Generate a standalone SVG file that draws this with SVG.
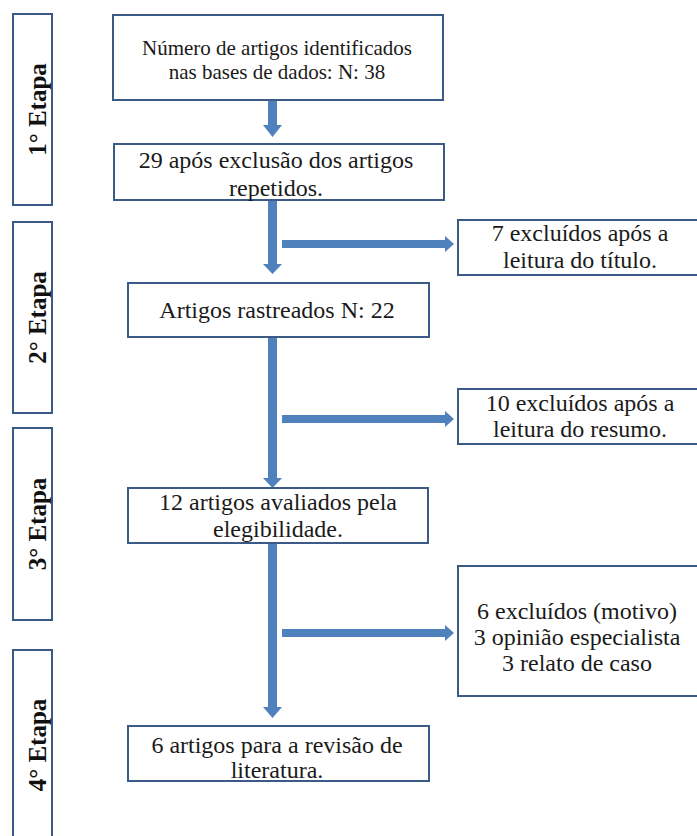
<svg xmlns="http://www.w3.org/2000/svg" width="697" height="836" viewBox="0 0 697 836">
<style>
.box{fill:#ffffff;stroke:#3B5B86;stroke-width:2}
.t{font-family:"Liberation Serif","Times New Roman",serif;font-size:24px;fill:#1a1a1a;text-anchor:middle}
.ts{font-size:21px}
.stage{font-family:"Liberation Serif","Times New Roman",serif;font-size:25px;font-weight:bold;fill:#111;text-anchor:middle}
.arr{fill:#4F81BD}
</style>
<rect width="697" height="836" fill="#ffffff"/>
<g id="stages">
<g id="stage1"><rect class="box" x="13" y="14" width="39" height="191"/><text class="stage" transform="translate(46,109.5) rotate(-90)">1° Etapa</text></g>
<g id="stage2"><rect class="box" x="13" y="222" width="39" height="191"/><text class="stage" transform="translate(46,317.5) rotate(-90)">2° Etapa</text></g>
<g id="stage3"><rect class="box" x="13" y="428" width="39" height="192"/><text class="stage" transform="translate(46,524) rotate(-90)">3° Etapa</text></g>
<g id="stage4"><rect class="box" x="13" y="650" width="39" height="200"/><text class="stage" transform="translate(46,745) rotate(-90)">4° Etapa</text></g>
</g>
<g id="connectors">
<polygon class="arr" points="268,99 277,99 277,125 282,125 272.5,137 263,125 268,125"/>
<polygon class="arr" points="268,200 277,200 277,264 282,264 272.5,274 263,264 268,264"/>
<polygon class="arr" points="268,337 277,337 277,478 282,478 272.5,488 263,478 268,478"/>
<polygon class="arr" points="268,543 277,543 277,707 282,707 272.5,718 263,707 268,707"/>
<polygon class="arr" points="282,240 445,240 445,236 454,244 445,252 445,248 282,248"/>
<polygon class="arr" points="282,415 445,415 445,411 454,419 445,427 445,423 282,423"/>
<polygon class="arr" points="282,629 445,629 445,625 454,633 445,641 445,637 282,637"/>
</g>
<g id="n1"><rect class="box" x="113" y="15" width="330" height="85"/><text class="t ts" x="277" y="55">Número de artigos identificados</text><text class="t ts" x="277" y="79">nas bases de dados: N: 38</text></g>
<g id="n2"><rect class="box" x="114" y="144" width="330" height="56"/><text class="t" x="276" y="168">29 após exclusão dos artigos</text><text class="t" x="276" y="196">repetidos.</text></g>
<g id="n3"><rect class="box" x="458" y="220" width="250" height="55"/><text class="t" x="580" y="241">7 excluídos após a</text><text class="t" x="580" y="268">leitura do título.</text></g>
<g id="n4"><rect class="box" x="128" y="283" width="301" height="54"/><text class="t" x="277" y="318">Artigos rastreados N: 22</text></g>
<g id="n5"><rect class="box" x="458" y="389" width="250" height="55"/><text class="t" x="580" y="411">10 excluídos após a</text><text class="t" x="580" y="437">leitura do resumo.</text></g>
<g id="n6"><rect class="box" x="128" y="488" width="300" height="55"/><text class="t" x="278" y="510">12 artigos avaliados pela</text><text class="t" x="278" y="537">elegibilidade.</text></g>
<g id="n7"><rect class="box" x="458" y="566" width="250" height="130"/><text class="t" x="577" y="619">6 excluídos (motivo)</text><text class="t" x="577" y="645">3 opinião especialista</text><text class="t" x="577" y="671">3 relato de caso</text></g>
<g id="n8"><rect class="box" x="128" y="726" width="301" height="55"/><text class="t" x="277" y="753">6 artigos para a revisão de</text><text class="t" x="277" y="778">literatura.</text></g>
</svg>
